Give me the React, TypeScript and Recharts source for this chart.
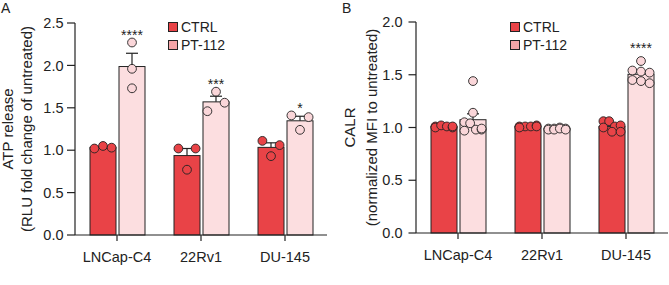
import { Bar, BarChart, Legend, XAxis, YAxis } from "recharts";

// Two GraphPad-style bar panels: mean ± SEM bars with replicate dots on top.

const CATEGORIES = ["LNCap-C4", "22Rv1", "DU-145"];
const SERIES = ["CTRL", "PT-112"];

// panel A: ATP release, three replicates per bar
const ATP_CTRL = [
  [1.02, 1.05, 1.03],
  [1.02, 1.02, 0.77],
  [1.11, 1.06, 0.93],
];
const ATP_PT = [
  [2.27, 1.96, 1.73],
  [1.69, 1.46, 1.56],
  [1.41, 1.39, 1.24],
];
const ATP_STARS = ["****", "***", "*"];
const ATP_TICKS = [0, 0.5, 1, 1.5, 2, 2.5];

// panel B: CALR
const CALR_CTRL = [
  [1.01, 1.0, 1.02, 1.01, 1.0, 1.01],
  [1.01, 1.01, 1.0, 1.01, 1.02, 1.01],
  [1.06, 1.06, 1.01, 1.0, 1.02, 0.96, 0.96],
];
const CALR_PT = [
  [1.44, 1.14, 1.05, 1.04, 0.98, 0.97, 0.98, 0.99],
  [0.99, 0.98, 0.99, 1.0, 0.98, 0.99, 0.99, 0.98],
  [1.63, 1.54, 1.53, 1.52, 1.45, 1.44, 1.42],
];
const CALR_STARS = ["", "", "****"];
const CALR_TICKS = [0, 0.5, 1, 1.5, 2];

const RED = "#e94347";
const PINK = "#fcdee0";
const PINK_DOT = "#fad6d9";
const PINK_KEY = "#f5a5a8";
const INK = "#222";
const FONT = "'Liberation Sans', Arial, sans-serif";
const R = 4.4; // dot radius

const mean = (a: number[]) => a.reduce((s, v) => s + v, 0) / a.length;
const sem = (a: number[]) => {
  const m = mean(a);
  const v = a.reduce((s, x) => s + (x - m) ** 2, 0) / (a.length - 1);
  return Math.sqrt(v / a.length);
};

function buildRows(ctrl: number[][], pt: number[][], stars: string[]) {
  return CATEGORIES.map((name, i) => ({
    name,
    ctrl: mean(ctrl[i]),
    pt: mean(pt[i]),
    ctrlPts: ctrl[i],
    ptPts: pt[i],
    ctrlSem: sem(ctrl[i]),
    ptSem: sem(pt[i]),
    stars: stars[i],
  }));
}

// rough beeswarm: dots closer than a diameter share a row (max 4), spread over the bar
function spread(ys: number[], half: number) {
  const order = ys.map((_, i) => i).sort((a, b) => ys[a] - ys[b]);
  const rows: number[][] = [];
  let cur: number[] = [];
  for (const i of order) {
    if (cur.length && (ys[i] - ys[cur[0]] >= 2 * R || cur.length >= 4)) {
      rows.push(cur);
      cur = [];
    }
    cur.push(i);
  }
  if (cur.length) rows.push(cur);
  const dx = ys.map(() => 0);
  rows.forEach((row) => {
    const r = [...row].sort((a, b) => a - b);
    if (r.length < 2) return;
    r.forEach((idx, k) => {
      dx[idx] = -half + (2 * half * k) / (r.length - 1);
    });
  });
  return dx;
}

function barShape(key: "ctrl" | "pt", dotFill: string, starDrop: number) {
  return (p: any) => {
    const { x, y, width, height, payload, fill } = p;
    const m = payload[key];
    const base = y + height;
    const k = height / m;
    const toY = (v: number) => base - v * k;
    const pts: number[] = payload[key + "Pts"];
    const eTop = toY(m + payload[key + "Sem"]);
    const cx = x + width / 2;
    const ys = pts.map(toY);
    const dx = spread(ys, width / 2 - R);
    const top = Math.min(eTop, ...ys.map((v) => v - R));
    return (
      <g>
        <rect x={x} y={y} width={width} height={height} fill={fill} stroke={INK} strokeWidth={1} />
        <line x1={cx} x2={cx} y1={y} y2={eTop} stroke={INK} strokeWidth={1.2} />
        <line x1={cx - 6} x2={cx + 6} y1={eTop} y2={eTop} stroke={INK} strokeWidth={1.2} />
        {ys.map((yy, i) => (
          <circle key={i} cx={cx + dx[i]} cy={yy} r={R} fill={dotFill} stroke={INK} strokeWidth={0.9} />
        ))}
        {key === "pt" && payload.stars ? (
          <text x={cx} y={top + starDrop} textAnchor="middle" fontSize={14} fill={INK} fontFamily={FONT}>
            {payload.stars}
          </text>
        ) : null}
      </g>
    );
  };
}

function KeyBox() {
  const items = [
    { label: SERIES[0], color: RED },
    { label: SERIES[1], color: PINK_KEY },
  ];
  return (
    <div style={{ fontFamily: FONT, fontSize: 14, color: INK }}>
      {items.map((it) => (
        <div key={it.label} style={{ display: "flex", alignItems: "center", height: 18.5 }}>
          <span
            style={{
              width: 8,
              height: 8,
              background: it.color,
              border: `1px solid ${INK}`,
              marginRight: 3,
            }}
          />
          <span>{it.label}</span>
        </div>
      ))}
    </div>
  );
}

type PanelProps = {
  rows: ReturnType<typeof buildRows>;
  ticks: number[];
  title: [string, string];
  width: number;
  yWidth: number;
  top: number;
  right: number;
  xHeight: number;
  yTick: number;
  tickGap: number;
  titleX: [number, number];
  legend: { left: number; top: number };
  starDrop: number;
};

function Panel(props: PanelProps) {
  const { rows, ticks, title, width, yWidth, top, right, xHeight, yTick, tickGap, titleX, legend, starDrop } =
    props;
  const tickStyle = { fontSize: 14.5, fill: INK, fontFamily: FONT };
  const axisStyle = { stroke: INK, strokeWidth: 1.2 };
  return (
    <BarChart
      width={width}
      height={285}
      data={rows}
      barGap={3}
      margin={{ top, right, bottom: 0, left: 0 }}
    >
      <XAxis
        dataKey="name"
        interval={0}
        height={xHeight}
        tickSize={6}
        tickMargin={11}
        tick={tickStyle}
        axisLine={axisStyle}
        tickLine={axisStyle}
      />
      <YAxis
        type="number"
        domain={[0, ticks[ticks.length - 1]]}
        ticks={ticks}
        interval={0}
        width={yWidth}
        tickSize={yTick}
        tickMargin={tickGap}
        tickFormatter={(v: number) => v.toFixed(1)}
        tick={tickStyle}
        axisLine={axisStyle}
        tickLine={axisStyle}
        label={{
          content: (lp: any) => {
            const vb = lp.viewBox || {};
            const cy = (vb.y ?? top) + (vb.height ?? 0) / 2;
            return (
              <g fontFamily={FONT} fontSize={15} fill={INK}>
                {title.map((t, i) => (
                  <text
                    key={i}
                    x={titleX[i]}
                    y={cy}
                    textAnchor="middle"
                    dominantBaseline="central"
                    transform={`rotate(-90 ${titleX[i]} ${cy})`}
                  >
                    {t}
                  </text>
                ))}
              </g>
            );
          },
        }}
      />
      <Legend
        layout="vertical"
        align="center"
        verticalAlign="middle"
        wrapperStyle={{ left: legend.left, top: legend.top, width: "auto", height: "auto" }}
        content={() => <KeyBox />}
      />
      <Bar dataKey="ctrl" name={SERIES[0]} fill={RED} barSize={26} isAnimationActive={false} shape={barShape("ctrl", RED, starDrop)} />
      <Bar dataKey="pt" name={SERIES[1]} fill={PINK} barSize={26} isAnimationActive={false} shape={barShape("pt", PINK_DOT, starDrop)} />
    </BarChart>
  );
}

export default function App() {
  const atpRows = buildRows(ATP_CTRL, ATP_PT, ATP_STARS);
  const calrRows = buildRows(CALR_CTRL, CALR_PT, CALR_STARS);
  const letter = { position: "absolute" as const, top: 0, fontFamily: FONT, fontSize: 14, color: INK };
  return (
    <div style={{ position: "absolute", left: 0, top: 0, width: 669, height: 285, background: "#fff" }}>
      <div style={{ position: "absolute", left: 0, top: 0 }}>
        <Panel
          rows={atpRows}
          ticks={ATP_TICKS}
          title={["ATP release", "(RLU fold change of untreated)"]}
          width={335}
          yWidth={75}
          top={23}
          right={8}
          xHeight={50}
          yTick={8}
          tickGap={3.5}
          titleX={[7, 26]}
          legend={{ left: 168, top: 17.5 }}
          starDrop={1.5}
        />
      </div>
      <div style={{ position: "absolute", left: 335, top: 0 }}>
        <Panel
          rows={calrRows}
          ticks={CALR_TICKS}
          title={["CALR", "(normalized MFI to untreated)"]}
          width={334}
          yWidth={81}
          top={22}
          right={1}
          xHeight={52}
          yTick={7.5}
          tickGap={6}
          titleX={[14.5, 36]}
          legend={{ left: 175, top: 17.5 }}
          starDrop={-4}
        />
      </div>
      <div style={{ ...letter, left: 1 }}>A</div>
      <div style={{ ...letter, left: 342 }}>B</div>
    </div>
  );
}
